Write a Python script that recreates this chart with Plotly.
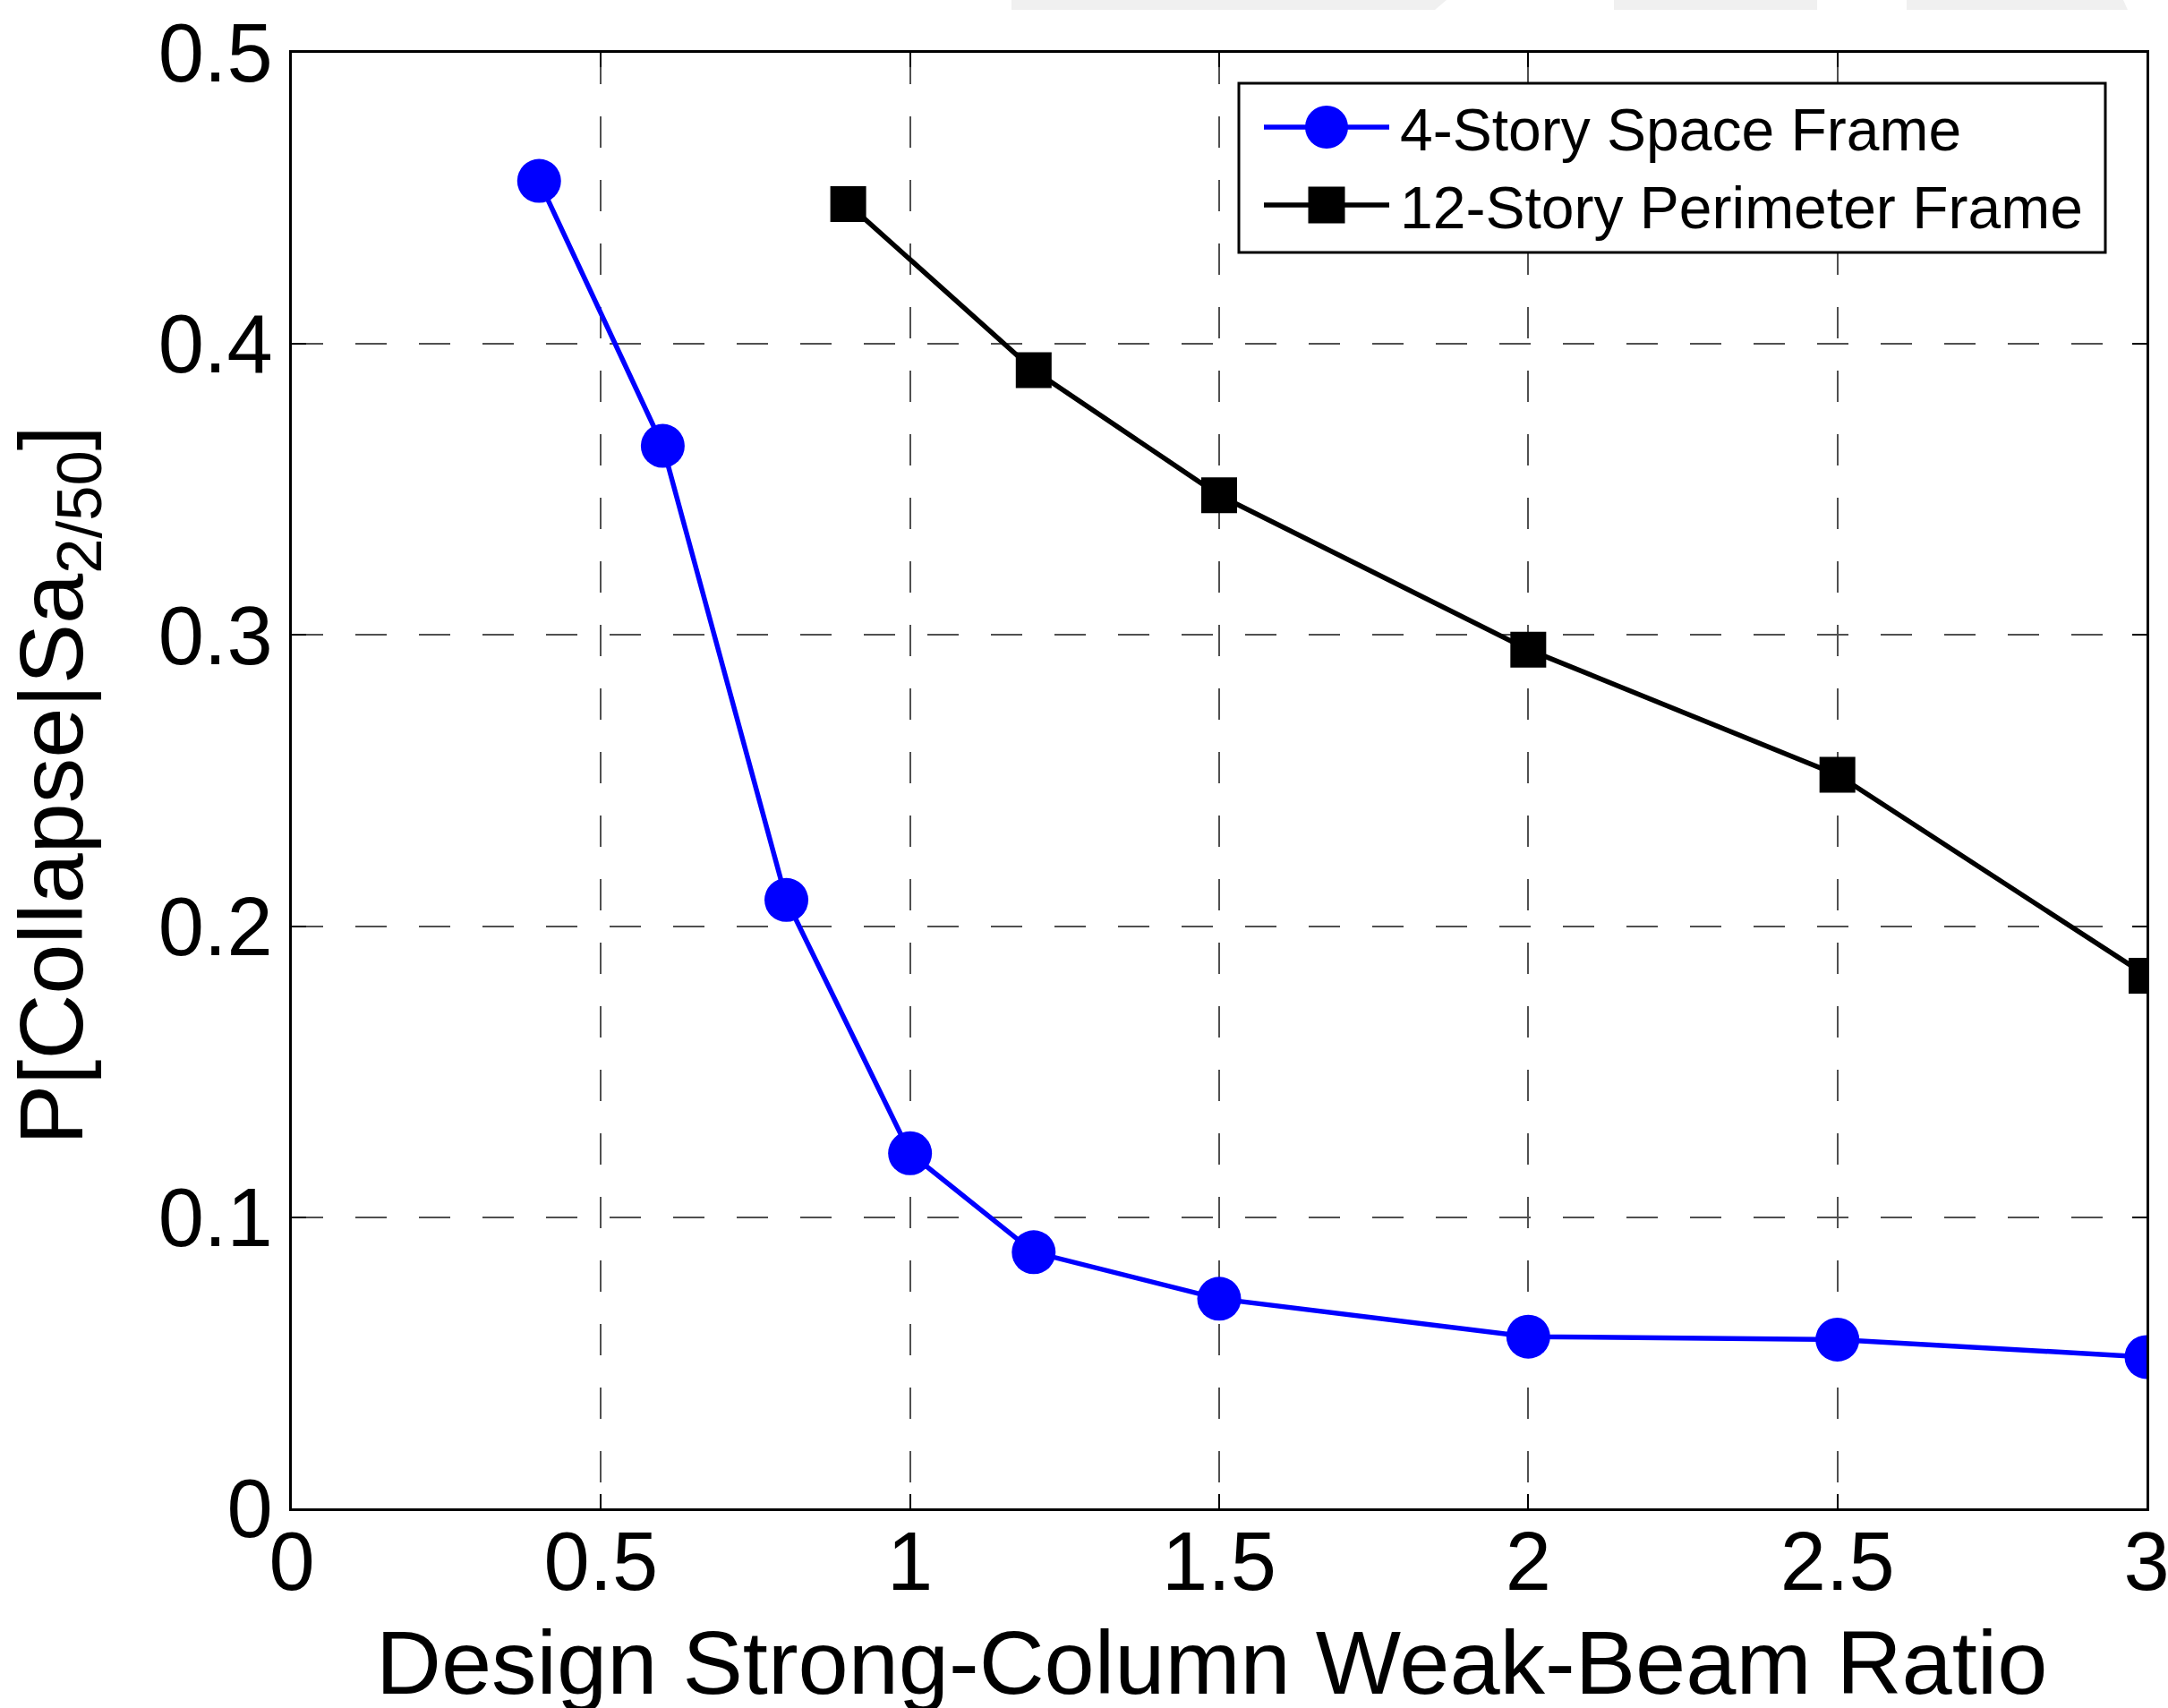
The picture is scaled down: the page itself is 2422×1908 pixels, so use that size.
import plotly.graph_objects as go

# ---- data ----
x_4story = [0.4, 0.6, 0.8, 1.0, 1.2, 1.5, 2.0, 2.5, 3.0]
y_4story = [0.456, 0.365, 0.209, 0.122, 0.088, 0.072, 0.059, 0.058, 0.052]
x_12story = [0.9, 1.2, 1.5, 2.0, 2.5, 3.0]
y_12story = [0.448, 0.391, 0.348, 0.295, 0.252, 0.183]
x_ticks = [0, 0.5, 1, 1.5, 2, 2.5, 3]
x_ticklabels = ["0", "0.5", "1", "1.5", "2", "2.5", "3"]
y_ticks = [0, 0.1, 0.2, 0.3, 0.4, 0.5]
y_ticklabels = ["0", "0.1", "0.2", "0.3", "0.4", "0.5"]
name_4 = "4-Story Space Frame"
name_12 = "12-Story Perimeter Frame"
x_title = "Design Strong-Column Weak-Beam Ratio"
y_title = "P[Collapse|Sa<sub>2/50</sub>]"

W, H = 2422, 1908
OFF = 0  # page body margin removed via post_script
# plot area in screen pixels
PL, PR, PT, PB = 326, 2398, 59, 1685
L = PL - OFF
T = PT - OFF
R = W - (PR - OFF)
B = H - (PB - OFF)
FONT = "Liberation Sans, Arial, sans-serif"
BLUE = "#0000ff"


def px_x(p):
    """screen pixel x -> paper fraction"""
    return (p - PL) / (PR - PL)


def px_y(p):
    """screen pixel y -> paper fraction"""
    return (PB - p) / (PB - PT)


fig = go.Figure()
fig.add_trace(go.Scatter(
    x=x_4story, y=y_4story, name=name_4, mode="lines+markers",
    line=dict(color=BLUE, width=5.5),
    marker=dict(symbol="circle", size=49, color=BLUE),
    showlegend=False,
))
fig.add_trace(go.Scatter(
    x=x_12story, y=y_12story, name=name_12, mode="lines+markers",
    line=dict(color="#000000", width=5.5),
    marker=dict(symbol="square", size=40, color="#000000"),
    showlegend=False,
))

grid = dict(showgrid=True, gridcolor="#505050", gridwidth=2, griddash="35px,36px")
common = dict(
    showline=True, linecolor="black", linewidth=3, mirror="ticks",
    ticks="inside", ticklen=16, tickwidth=2, tickcolor="black",
    tickfont=dict(family=FONT, size=92, color="black"),
    zeroline=False, automargin=False, ticklabeloverflow="allow",
)
fig.update_xaxes(range=[0, 3], tickvals=x_ticks, ticktext=x_ticklabels,
                 ticklabelstandoff=-22, **common, **grid)
fig.update_yaxes(range=[0, 0.5], tickvals=y_ticks, ticktext=y_ticklabels,
                 **common, **grid)

# axis titles
fig.add_annotation(text=x_title, xref="paper", yref="paper",
                   x=px_x(1353), y=px_y(1857), xanchor="center", yanchor="middle",
                   showarrow=False, font=dict(family=FONT, size=101, color="black"))
fig.add_annotation(text=y_title, xref="paper", yref="paper", textangle=-90,
                   x=px_x(64), y=px_y(877), xanchor="center", yanchor="middle",
                   showarrow=False, font=dict(family=FONT, size=101, color="black"))

# legend (drawn to match the reference's large symbols)
fig.add_shape(type="rect", xref="paper", yref="paper",
              x0=px_x(1384), x1=px_x(2352), y0=px_y(93), y1=px_y(282),
              fillcolor="white", line=dict(color="black", width=3), layer="above")
legend_rows = [
    (name_4, BLUE, "circle", 142, 48),
    (name_12, "#000000", "rect", 229, 41),
]
for label, color, sym, cy, size in legend_rows:
    fig.add_shape(type="line", xref="paper", yref="paper",
                  x0=px_x(1412), x1=px_x(1552), y0=px_y(cy), y1=px_y(cy),
                  line=dict(color=color, width=5.5), layer="above")
    h = size / 2
    fig.add_shape(type=sym, xref="paper", yref="paper",
                  x0=px_x(1482 - h), x1=px_x(1482 + h),
                  y0=px_y(cy + h), y1=px_y(cy - h),
                  fillcolor=color, line=dict(color=color, width=0), layer="above")
    fig.add_annotation(text=label, xref="paper", yref="paper",
                       x=px_x(1562), y=px_y(cy + 3), xanchor="left", yanchor="middle",
                       showarrow=False, font=dict(family=FONT, size=66, color="black"))

# faint scan artifacts at the top edge of the page
artifacts = [
    [(1130, 0), (1616, 0), (1603, 11), (1130, 11)],
    [(1803, 0), (2030, 0), (2030, 11), (1803, 11)],
    [(2130, 0), (2372, 0), (2377, 11), (2130, 11)],
]
for poly in artifacts:
    path = "M " + " L ".join(f"{px_x(a)},{px_y(b)}" for a, b in poly) + " Z"
    fig.add_shape(type="path", path=path, xref="paper", yref="paper",
                  fillcolor="#f0f0f0", line=dict(width=0), layer="below")

fig.update_layout(
    width=W, height=H,
    margin=dict(l=L, r=R, t=T, b=B, pad=0),
    paper_bgcolor="white", plot_bgcolor="white",
    font=dict(family=FONT, color="black"),
    showlegend=False,
)

fig.write_html("out.html",
               config={"displayModeBar": False},
               post_script="document.body.style.margin='0px';")
